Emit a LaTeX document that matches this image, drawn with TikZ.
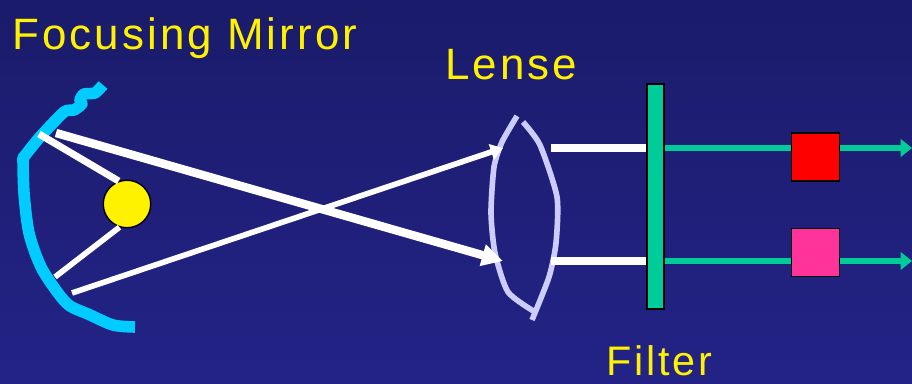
\documentclass[tikz,border=0pt]{standalone}
\usepackage{fontspec}
\usepackage{xcolor}
\usetikzlibrary{arrows.meta, positioning, calc}
\setmainfont{Liberation Sans}[LetterSpace=7]
\definecolor{bgtop}{RGB}{27,27,107}
\definecolor{bgbottom}{RGB}{35,35,135}
\definecolor{mirrorblue}{RGB}{0,204,255}
\definecolor{lenseblue}{RGB}{204,204,255}
\definecolor{filtergreen}{RGB}{0,204,153}
\definecolor{passpink}{RGB}{255,51,153}

\begin{document}
\begin{tikzpicture}[
    x=0.02cm, y=-0.02cm,
    title/.style={anchor=base west, inner sep=0pt, text=yellow, font=\fontsize{25}{30}\selectfont},
    lamp/.style={circle, draw=black, fill=yellow, line width=0.8pt, minimum size=1.9cm/2, inner sep=0pt},
    filterbar/.style={rectangle, draw=black, fill=filtergreen, line width=0.9pt, minimum width=0.34cm, minimum height=4.5cm, inner sep=0pt},
    passbox/.style={rectangle, draw=black, line width=0.9pt, minimum size=0.96cm, inner sep=0pt},
    mirrorline/.style={draw=mirrorblue, line width=6.6pt, line join=round},
    lenseline/.style={draw=lenseblue, line width=3.2pt},
    thinray/.style={draw=white, line width=3.2pt},
    thickray/.style={draw=white, line width=4.8pt},
    outarrow/.style={draw=filtergreen, line width=3.4pt, -{Triangle[length=6.5pt, width=10pt]}}
]
    % Background
    \shade[top color=bgtop, bottom color=bgbottom] (0,0) rectangle (912,384);
    \useasboundingbox (0,0) rectangle (912,384);

    % Labels
    \node[title] (mirrortext) at (12,50) {Focusing Mirror};
    \node[title] (lensetext) at (445,80) {Lense};
    \node[title, font=\fontsize{23.5}{28}\selectfont] (filtertext) at (606,376) {Filter};

    % Mirror
    \draw[mirrorline] plot[smooth, tension=0.4] coordinates {(103,85) (95,93) (84,94) (80,100) (82,104) (74,110) (64,112) (40,137) (23,158)}
        -- plot[smooth, tension=0.5] coordinates {(23,158) (24,193) (29,233) (41,267) (58,293) (70,306) (88,314) (113,325) (135,327)};

    % Lense
    \draw[lenseline] plot[smooth, tension=0.4] coordinates {(517,116) (502,142) (494,167) (491,213) (495,253) (508,292) (535,312)};
    \draw[lenseline] plot[smooth, tension=0.4] coordinates {(523,122) (540,145) (557,197) (556,243) (549,277) (532,320)};

    % Lamp and filter
    \node[lamp] (lamp) at (127,204) {};
    \node[filterbar] (filter) at (655.5,196.5) {};
    \node[passbox, fill=red] (redbox) at (815.5,157) {};
    \node[passbox, fill=passpink] (pinkbox) at (815.5,252.5) {};

    % Mirror points
    \coordinate (hitone) at (39,134);
    \coordinate (hittwo) at (55,277);
    \coordinate (startone) at (56,133);
    \coordinate (starttwo) at (72,293);
    \coordinate (tiptop) at (503,148);
    \coordinate (tipbottom) at (503,261);
    \coordinate (stubtop) at (551,148);
    \coordinate (stubbottom) at (551,261);
    \coordinate (endtop) at (912,148);
    \coordinate (endbottom) at (912,261);

    % Rays
    \draw[thickray, line width=4pt] (lamp.110) -- (hitone);
    \draw[thinray] (lamp.252) -- (hittwo);
    \draw[thickray, -{Triangle[length=12pt, width=12pt]}] (startone) -- (tipbottom);
    \draw[thinray, -{Triangle[length=7pt, width=9pt]}] (starttwo) -- (tiptop);
    \draw[thickray] (stubtop) -- (stubtop -| filter.west);
    \draw[thickray] (stubbottom) -- (stubbottom -| filter.west);

    % Output
    \draw[outarrow, -] (filter.east |- endtop) -- (redbox.west |- endtop);
    \draw[outarrow] (redbox.east |- endtop) -- (endtop);
    \draw[outarrow, -] (filter.east |- endbottom) -- (pinkbox.west |- endbottom);
    \draw[outarrow] (pinkbox.east |- endbottom) -- (endbottom);
\end{tikzpicture}
\end{document}
